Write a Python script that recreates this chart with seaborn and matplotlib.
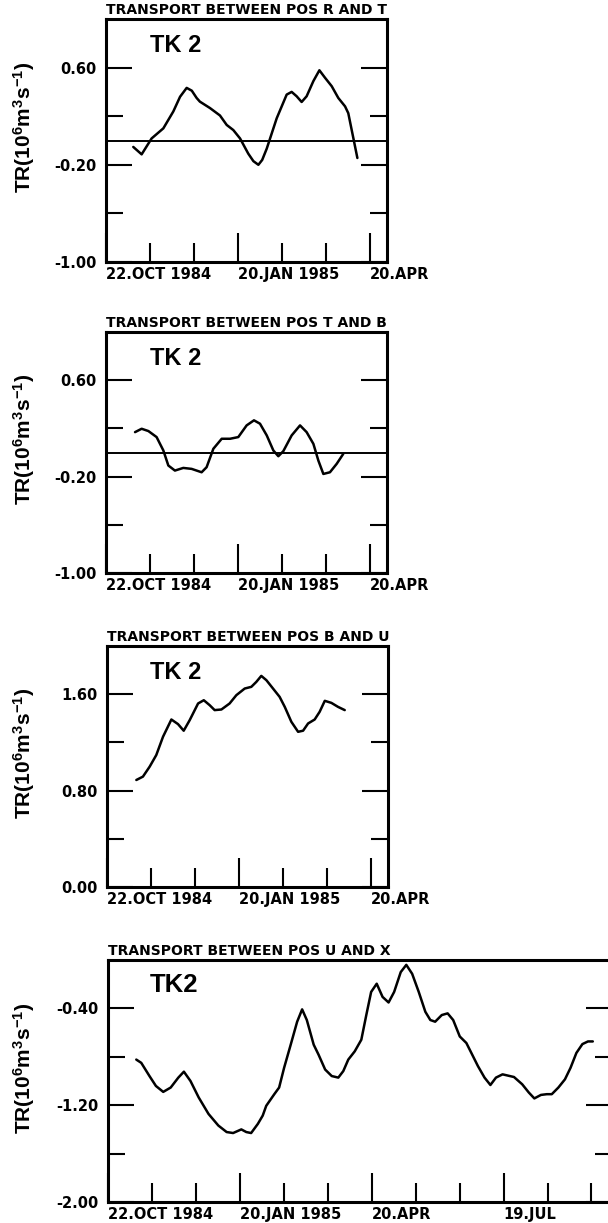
import matplotlib
matplotlib.use("Agg")
import matplotlib.pyplot as plt
import matplotlib.transforms as mtransforms
from matplotlib.ticker import FixedLocator, FixedFormatter
import seaborn as sns

# ---------------- data (days since 22 Oct 1984, transport in Sv) ----------------
days_rt = [18.6, 24.3, 31.1, 39.1, 45.9, 50.5, 55.0, 58.5, 61.8, 64.0, 70.9, 77.7, 82.3, 86.8,
           91.4, 97.0, 100.5, 103.9, 106.5, 109.6, 116.4, 123.2, 126.6, 130.0, 133.4, 136.8,
           141.4, 145.5, 149.3, 153.9, 158.4, 163.0, 165.2, 168.7, 171.4]
tr_rt = [-0.053, -0.114, 0.017, 0.100, 0.239, 0.360, 0.433, 0.410, 0.350, 0.320, 0.267, 0.206,
         0.128, 0.086, 0.017, -0.108, -0.170, -0.200, -0.160, -0.067, 0.183, 0.378, 0.400, 0.364,
         0.317, 0.364, 0.489, 0.578, 0.517, 0.447, 0.350, 0.281, 0.225, 0.017, -0.144]

days_tb = [19.8, 24.3, 28.9, 34.5, 39.1, 42.5, 47.0, 52.7, 58.4, 65.2, 68.6, 73.2,
           78.9, 84.6, 90.2, 95.9, 100.9, 105.0, 109.6, 114.1, 117.5, 120.9, 126.6,
           132.3, 136.8, 141.4, 144.8, 148.2, 152.7, 157.3, 161.8]
tr_tb = [0.169, 0.197, 0.178, 0.128, 0.017, -0.108, -0.150, -0.128, -0.136, -0.164,
         -0.122, 0.031, 0.114, 0.114, 0.128, 0.225, 0.267, 0.239, 0.142, 0.017,
         -0.031, 0.011, 0.142, 0.225, 0.169, 0.072, -0.067, -0.178, -0.164, -0.094, -0.011]

days_bu = [20.0, 24.5, 29.1, 33.6, 38.2, 43.9, 48.4, 52.3, 56.4, 62.1, 66.0, 70.0,
           73.4, 78.0, 83.6, 88.2, 93.9, 98.4, 101.8, 105.2, 108.7, 113.2, 117.7,
           121.2, 125.7, 130.3, 133.7, 137.1, 141.6, 145.0, 148.5, 153.0, 157.5, 162.1]
tr_bu = [0.888, 0.916, 0.999, 1.095, 1.247, 1.390, 1.352, 1.297, 1.385, 1.523, 1.550,
         1.509, 1.468, 1.473, 1.523, 1.592, 1.647, 1.661, 1.702, 1.752, 1.716, 1.647,
         1.578, 1.495, 1.371, 1.288, 1.297, 1.357, 1.390, 1.454, 1.545, 1.528, 1.495, 1.468]

days_ux = [19.3, 22.7, 28.3, 32.7, 37.7, 42.8, 48.0, 51.8, 56.3, 61.9, 68.6, 75.3,
           81.0, 85.4, 91.0, 94.4, 97.7, 102.3, 105.6, 108.0, 113.5, 116.8, 120.2,
           124.7, 129.1, 132.5, 135.7, 140.4, 143.7, 148.2, 152.7, 157.2, 160.6,
           164.0, 168.4, 172.9, 176.3, 179.6, 183.4, 187.4, 191.5, 195.3, 199.8,
           203.6, 207.6, 212.1, 216.6, 220.0, 223.3, 227.8, 231.8, 235.6, 240.1,
           244.6, 248.0, 252.5, 257.0, 261.0, 264.8, 269.3, 277.1, 282.7, 287.2,
           291.0, 295.5, 299.5, 302.9, 307.4, 311.9, 315.7, 319.7, 323.8, 327.6, 330.9]
tr_ux = [-0.823, -0.850, -0.959, -1.041, -1.090, -1.054, -0.972, -0.923, -1.000,
         -1.136, -1.272, -1.368, -1.422, -1.430, -1.400, -1.422, -1.430, -1.354,
         -1.286, -1.205, -1.109, -1.054, -0.891, -0.700, -0.510, -0.408, -0.496,
         -0.700, -0.782, -0.905, -0.959, -0.972, -0.918, -0.823, -0.755, -0.659,
         -0.455, -0.264, -0.196, -0.305, -0.351, -0.264, -0.100, -0.040, -0.114,
         -0.264, -0.428, -0.496, -0.510, -0.455, -0.441, -0.496, -0.632, -0.686,
         -0.768, -0.877, -0.972, -1.033, -0.972, -0.945, -0.967, -1.027, -1.095,
         -1.144, -1.115, -1.109, -1.109, -1.054, -0.986, -0.891, -0.768, -0.695,
         -0.673, -0.673]

titles = ["TRANSPORT BETWEEN POS R AND T", "TRANSPORT BETWEEN POS T AND B",
          "TRANSPORT BETWEEN POS B AND U", "TRANSPORT BETWEEN POS U AND X"]
tk_labels = ["TK 2", "TK 2", "TK 2", "TK2"]

x_major_short = [0, 90, 180]
x_minor_short = [30, 60, 120, 150]
x_labels_short = ["22.OCT 1984", "20.JAN 1985", "20.APR"]
x_major_long = [0, 90, 180, 270]
x_minor_long = [30, 60, 120, 150, 210, 240, 300, 330]
x_labels_long = ["22.OCT 1984", "20.JAN 1985", "20.APR", "19.JUL"]

y_major_a = [-1.0, -0.2, 0.6]
y_minor_a = [-0.6, 0.2]
y_labels_a = ["-1.00", "-0.20", "0.60"]
y_major_c = [0.0, 0.8, 1.6]
y_minor_c = [0.4, 1.2]
y_labels_c = ["0.00", "0.80", "1.60"]
y_major_d = [-2.0, -1.2, -0.4]
y_minor_d = [-1.6, -0.8]
y_labels_d = ["-2.00", "-1.20", "-0.40"]

ylabel = r"TR$(10^{6}$m$^{3}$s$^{-1})$"

# ---------------- style ----------------
sns.set_style("white")
plt.rcParams["font.family"] = ["DejaVu Sans"]
plt.rcParams["font.weight"] = "bold"
plt.rcParams["text.color"] = "black"
plt.rcParams["axes.labelcolor"] = "black"
plt.rcParams["xtick.color"] = "black"
plt.rcParams["ytick.color"] = "black"
plt.rcParams["mathtext.fontset"] = "custom"
plt.rcParams["mathtext.rm"] = "Liberation Sans:bold"
plt.rcParams["mathtext.bf"] = "Liberation Sans:bold"
plt.rcParams["mathtext.default"] = "rm"

W, H = 608, 1223
fig = plt.figure(figsize=(W / 100, H / 100), dpi=100)


def add_ax(left, top, right, bottom):
    return fig.add_axes([left / W, 1 - bottom / H, (right - left) / W, (bottom - top) / H])


panels = [
    dict(box=(106, 19, 387, 262), x=days_rt, y=tr_rt, ylim=(-1.0, 1.0), xlim=(0, 191.6),
         ymaj=y_major_a, ymin=y_minor_a, ylab=y_labels_a, xmaj=x_major_short,
         xmin=x_minor_short, xlab=x_labels_short, zero=True),
    dict(box=(106, 332, 387, 573), x=days_tb, y=tr_tb, ylim=(-1.0, 1.0), xlim=(0, 191.6),
         ymaj=y_major_a, ymin=y_minor_a, ylab=y_labels_a, xmaj=x_major_short,
         xmin=x_minor_short, xlab=x_labels_short, zero=True),
    dict(box=(107, 646, 388, 887), x=days_bu, y=tr_bu, ylim=(0.0, 2.0), xlim=(0, 191.6),
         ymaj=y_major_c, ymin=y_minor_c, ylab=y_labels_c, xmaj=x_major_short,
         xmin=x_minor_short, xlab=x_labels_short, zero=False),
    dict(box=(108, 960, 612, 1202), x=days_ux, y=tr_ux, ylim=(-2.0, 0.0), xlim=(0, 344),
         ymaj=y_major_d, ymin=y_minor_d, ylab=y_labels_d, xmaj=x_major_long,
         xmin=x_minor_long, xlab=x_labels_long, zero=False),
]

for i, p in enumerate(panels):
    ax = add_ax(*p["box"])
    sns.lineplot(x=p["x"], y=p["y"], ax=ax, color="black", linewidth=1.8,
                 errorbar=None, sort=True)
    ax.lines[-1].set_solid_joinstyle("round")
    if p["zero"]:
        ax.axhline(0.0, color="black", linewidth=1.4)
    ax.set_xlim(*p["xlim"])
    ax.set_ylim(*p["ylim"])
    for s in ax.spines.values():
        s.set_linewidth(2.2)
        s.set_color("black")

    ax.xaxis.set_major_locator(FixedLocator(p["xmaj"]))
    ax.xaxis.set_minor_locator(FixedLocator(p["xmin"]))
    ax.xaxis.set_major_formatter(FixedFormatter(p["xlab"]))
    ax.yaxis.set_major_locator(FixedLocator(p["ymaj"]))
    ax.yaxis.set_minor_locator(FixedLocator(p["ymin"]))
    ax.yaxis.set_major_formatter(FixedFormatter(p["ylab"]))

    ax.tick_params(axis="x", which="major", direction="in", length=21, width=1.5,
                   bottom=True, top=False, pad=3.5, labelsize=10.5, colors="black")
    ax.tick_params(axis="x", which="minor", direction="in", length=13.7, width=1.5,
                   bottom=True, top=False, colors="black")
    ax.tick_params(axis="y", which="major", direction="in", length=18.7, width=1.5,
                   left=True, right=True, pad=6.5, labelsize=10.5, colors="black")
    ax.tick_params(axis="y", which="minor", direction="in", length=12.2, width=1.5,
                   left=True, right=True, colors="black")
    for lbl in ax.get_xticklabels():
        lbl.set_horizontalalignment("left")
        lbl.set_fontweight("bold")
    for lbl in ax.get_yticklabels():
        lbl.set_fontweight("bold")
    ax.set_xlabel("")
    ax.set_ylabel("")

    # title sitting on top spine
    ax.text(0.0, 1.0, titles[i],
            transform=ax.transAxes + mtransforms.ScaledTranslation(0, 1.5 / 72, fig.dpi_scale_trans),
            ha="left", va="bottom", fontsize=10, fontweight="bold", color="black")
    # TK 2 label
    left, top, right, bottom = p["box"]
    tk_fs = 17 if i < 3 else 18.5
    tk_base = 33 if i < 3 else 32
    ax.text((150 - left) / (right - left), 1 - tk_base / (bottom - top), tk_labels[i],
            transform=ax.transAxes, ha="left", va="baseline", fontsize=tk_fs,
            fontweight="bold", family="Liberation Sans", color="black")
    # y label
    tr = mtransforms.blended_transform_factory(fig.transFigure, ax.transAxes)
    ax.text(24 / W, 0.553, ylabel, transform=tr, rotation=90, ha="center", va="center",
            fontsize=15, fontweight="bold", family="Liberation Sans", color="black")

fig.savefig("out.png", dpi=100)
